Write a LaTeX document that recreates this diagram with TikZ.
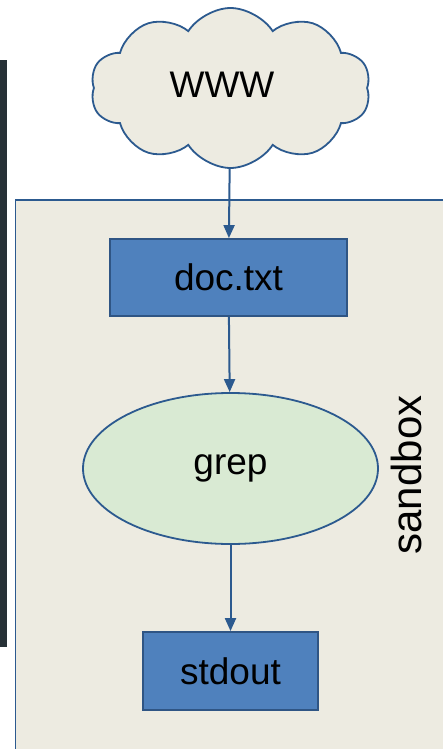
\documentclass[tikz,border=0pt]{standalone}
\usepackage{fontspec}
\setmainfont{Liberation Sans}
\usetikzlibrary{shapes.geometric,shapes.symbols,arrows.meta}
\definecolor{bgbeige}{HTML}{EDEBE1}
\definecolor{edgeblue}{HTML}{2C5A8F}
\definecolor{boxblue}{HTML}{4F81BD}
\definecolor{boxedge}{HTML}{2F5584}
\definecolor{ellfill}{HTML}{D9EAD3}
\definecolor{darkbar}{HTML}{273137}
\tikzset{
  bigtext/.style={font=\fontsize{37}{44}\selectfont},
  bluebox/.style={draw=boxedge, line width=1.8pt, fill=boxblue, rectangle, inner sep=0pt, bigtext},
  arr/.style={draw=edgeblue, line width=2pt, -{Triangle[length=13pt,width=11pt]}},
}
\begin{document}
\begin{tikzpicture}[x=1pt,y=-1pt]
\useasboundingbox (0,0) rectangle (443,749);
\begin{scope}
\clip (0,0) rectangle (443,749);
\fill[darkbar] (0,60.5) rectangle (7,647);
\draw[edgeblue, line width=1.8pt, fill=bgbeige] (15.5,200) rectangle (460,770);
\end{scope}
\node[cloud, cloud puffs=10, cloud puff arc=115, cloud ignores aspect, minimum width=280, minimum height=160, inner sep=0pt, draw=edgeblue, line width=1.8pt, fill=bgbeige] (www) at (230.5,88) {};
\node[bigtext] (wwwlabel) at (222,85) {WWW};
\node[bluebox, minimum width=237, minimum height=77] (doc) at (228.5,277.5) {doc.txt};
\node[ellipse, draw=edgeblue, line width=1.8pt, fill=ellfill, minimum width=295, minimum height=151, inner sep=0pt, bigtext] (grep) at (230.5,468.5) {grep};
\node[bluebox, minimum width=175, minimum height=78] (stdout) at (230.5,671) {stdout};
\node[rotate=90, font=\fontsize{42}{50}\selectfont] (sandbox) at (406.5,475) {sandbox};
\draw[arr] (www) -- (doc);
\draw[arr] (doc) -- (grep);
\draw[arr] (grep) -- (stdout);
\end{tikzpicture}
\end{document}
